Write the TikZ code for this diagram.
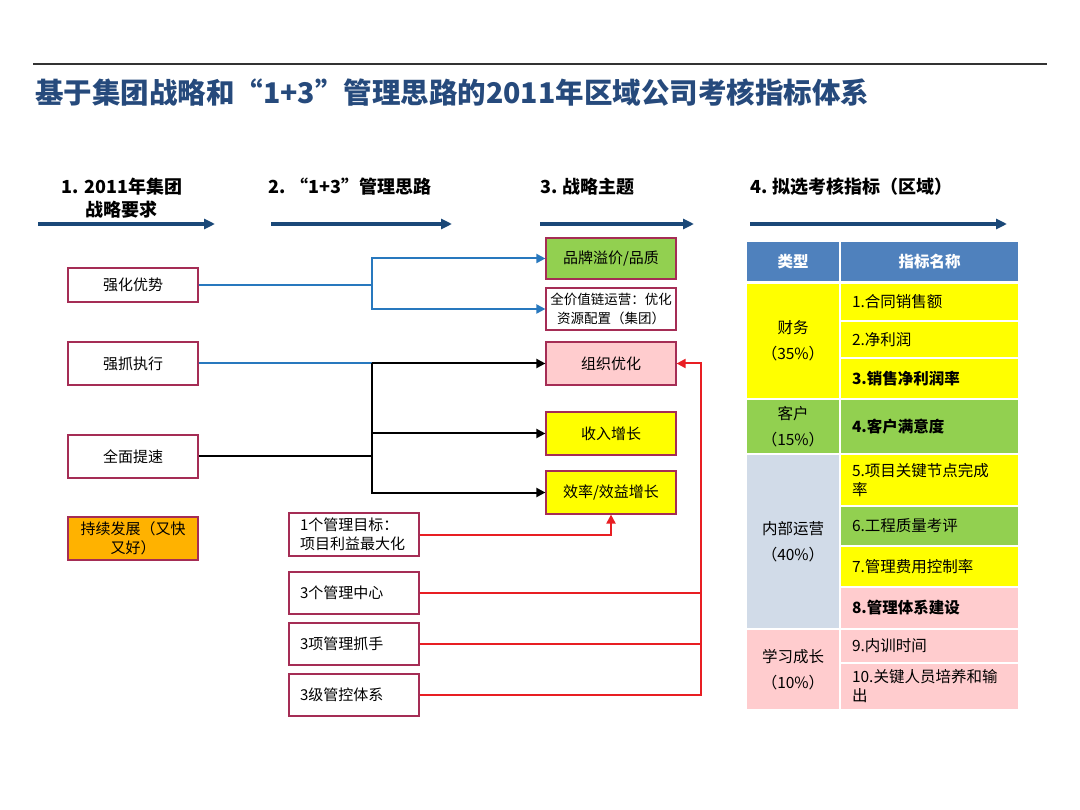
\documentclass[tikz,border=0pt]{standalone}
\usepackage{fontspec}
\setmainfont{Noto Sans CJK SC}
\usetikzlibrary{arrows.meta}
\definecolor{titleblue}{RGB}{38,74,124}
\definecolor{hdrarrow}{RGB}{26,72,120}
\definecolor{boxred}{RGB}{165,45,85}
\definecolor{conblue}{RGB}{40,120,190}
\definecolor{conred}{RGB}{232,30,35}
\definecolor{cgreen}{RGB}{146,208,80}
\definecolor{cyellow}{RGB}{255,255,0}
\definecolor{cpink}{RGB}{255,204,206}
\definecolor{corange}{RGB}{255,178,0}
\definecolor{cheader}{RGB}{79,129,189}
\definecolor{cgray}{RGB}{209,219,232}
\newcommand\fsz[2]{\fontsize{#1}{#2}\selectfont}
\newcommand\tcell[7]{\node[#6, minimum width={#4-#2}, minimum height={#5-#3}] (#1) at ({(#2+#4)/2},{(#3+#5)/2}) {#7};}
\tikzset{
  box/.style={draw=boxred, line width=1.2pt, fill=white, minimum width=130pt, inner sep=0pt, font=\fsz{15}{19}},
  mbox/.style={box, align=left, text width=108pt, inner xsep=11pt},
  hdr/.style={font=\fsz{18}{23}\bfseries, inner sep=0pt},
  bigarrow/.style={draw=hdrarrow, line width=3.2pt, -{Triangle[length=11pt,width=10pt]}},
  cb/.style={draw=conblue, line width=2pt},
  bk/.style={draw=black, line width=2pt},
  rd/.style={draw=conred, line width=2pt},
  tip/.style={-{Triangle[length=9pt,width=9pt]}},
  lcell/.style={inner sep=0pt, align=center, font=\fsz{15.5}{26}},
  icell/.style={inner sep=0pt, inner xsep=11pt, text width=155pt, align=left, font=\fsz{15.5}{19}},
  hcell/.style={inner sep=0pt, fill=cheader, text=white, font=\fsz{15.5}{19}\bfseries}
}
\begin{document}
\begin{tikzpicture}[x=1pt,y=-1pt]
\useasboundingbox (0,0) rectangle (1080,810);
\fill[white] (0,0) rectangle (1080,810);
% top rule and title
\coordinate (rl) at (33,64);
\coordinate (rr) at (1047,64);
\draw[line width=1.3pt, draw=black!80] (rl) -- (rr);
\node[anchor=west, inner sep=0pt, text=titleblue, font=\fsz{28.5}{33}\bfseries] (title) at (35,93) {基于集团战略和“1+3”管理思路的2011年区域公司考核指标体系};
% section headers
\node[hdr, align=center] (h1) at (122,198) {1. 2011年集团\\战略要求};
\node[hdr, anchor=west] (h2) at (268,187) {2. “1+3”管理思路};
\node[hdr, anchor=west] (h3) at (540,187) {3. 战略主题};
\node[hdr, anchor=west] (h4) at (750,187) {4. 拟选考核指标（区域）};
\coordinate (a1s) at (38,224); \coordinate (a1e) at (215,224);
\coordinate (a2s) at (271,224); \coordinate (a2e) at (452,224);
\coordinate (a3s) at (540,224); \coordinate (a3e) at (694,224);
\coordinate (a4s) at (750,224); \coordinate (a4e) at (1007,224);
\draw[bigarrow] (a1s) -- (a1e);
\draw[bigarrow] (a2s) -- (a2e);
\draw[bigarrow] (a3s) -- (a3e);
\draw[bigarrow] (a4s) -- (a4e);
% left boxes
\node[box, minimum height=34pt] (s1) at (133,285) {强化优势};
\node[box, minimum height=43pt] (s2) at (133,363.5) {强抓执行};
\node[box, minimum height=43pt] (s3) at (133,456.5) {全面提速};
\node[box, fill=corange, minimum height=43pt, align=center] (s4) at (133,538.5) {持续发展（又快\\又好）};
% middle boxes
\node[mbox, minimum height=43pt] (m1) at (354,534.5) {1个管理目标：\\项目利益最大化};
\node[mbox, minimum height=42pt] (m2) at (354,593) {3个管理中心};
\node[mbox, minimum height=42pt] (m3) at (354,644) {3项管理抓手};
\node[mbox, minimum height=42pt] (m4) at (354,695) {3级管控体系};
% theme boxes
\node[box, fill=cgreen, minimum height=41pt] (t1) at (611,258.5) {品牌溢价/品质};
\node[box, minimum height=42pt, align=center, font=\fsz{13.5}{19}] (t2) at (611,309) {全价值链运营：优化\\资源配置（集团）};
\node[box, fill=cpink, minimum height=43pt] (t3) at (611,363.5) {组织优化};
\node[box, fill=cyellow, minimum height=43pt] (t4) at (611,433.5) {收入增长};
\node[box, fill=cyellow, minimum height=43pt] (t5) at (611,492.5) {效率/效益增长};
% connectors
\coordinate (j1) at (372,285);
\coordinate (j2) at (372,363.5);
\coordinate (rx) at (701,600);
\draw[cb] (s1.east) -- (j1);
\draw[cb, tip] (j1) |- (t1.west);
\draw[cb, tip] (j1) |- (t2.west);
\draw[cb] (s2.east) -- (j2);
\draw[bk, tip] (j2) -- (t3.west);
\draw[bk, tip] (j2) |- (t5.west);
\draw[bk, tip] (j2 |- t4.west) -- (t4.west);
\draw[bk] (s3.east) -- (j2 |- s3.east);
\draw[rd, tip] (m1.east) -| (t5.south);
\draw[rd, tip] (m4.east) -- (m4.east -| rx) |- (t3.east);
\draw[rd] (m2.east) -- (m2.east -| rx);
\draw[rd] (m3.east) -- (m3.east -| rx);
% table
\tcell{hL}{747}{242}{839}{281}{hcell}{类型}
\tcell{hR}{841}{242}{1018}{281}{hcell}{指标名称}
\tcell{fin}{747}{284}{839}{398}{lcell, fill=cyellow}{财务\\（35\%）}
\tcell{i1}{841}{284}{1018}{320}{icell, fill=cyellow}{1.合同销售额}
\tcell{i2}{841}{322}{1018}{357}{icell, fill=cyellow}{2.净利润}
\tcell{i3}{841}{359}{1018}{398}{icell, fill=cyellow}{\bfseries 3.销售净利润率}
\tcell{cus}{747}{400}{839}{453}{lcell, fill=cgreen}{客户\\（15\%）}
\tcell{i4}{841}{400}{1018}{453}{icell, fill=cgreen}{\bfseries 4.客户满意度}
\tcell{ops}{747}{455}{839}{628}{lcell, fill=cgray}{内部运营\\（40\%）}
\tcell{i5}{841}{455}{1018}{505}{icell, fill=cyellow}{5.项目关键节点完成\\率}
\tcell{i6}{841}{507}{1018}{545}{icell, fill=cgreen}{6.工程质量考评}
\tcell{i7}{841}{547}{1018}{586}{icell, fill=cyellow}{7.管理费用控制率}
\tcell{i8}{841}{588}{1018}{628}{icell, fill=cpink}{\bfseries 8.管理体系建设}
\tcell{lrn}{747}{630}{839}{709}{lcell, fill=cpink}{学习成长\\（10\%）}
\tcell{i9}{841}{630}{1018}{662}{icell, fill=cpink}{9.内训时间}
\tcell{i10}{841}{664}{1018}{709}{icell, fill=cpink}{10.关键人员培养和输\\出}
\end{tikzpicture}
\end{document}
